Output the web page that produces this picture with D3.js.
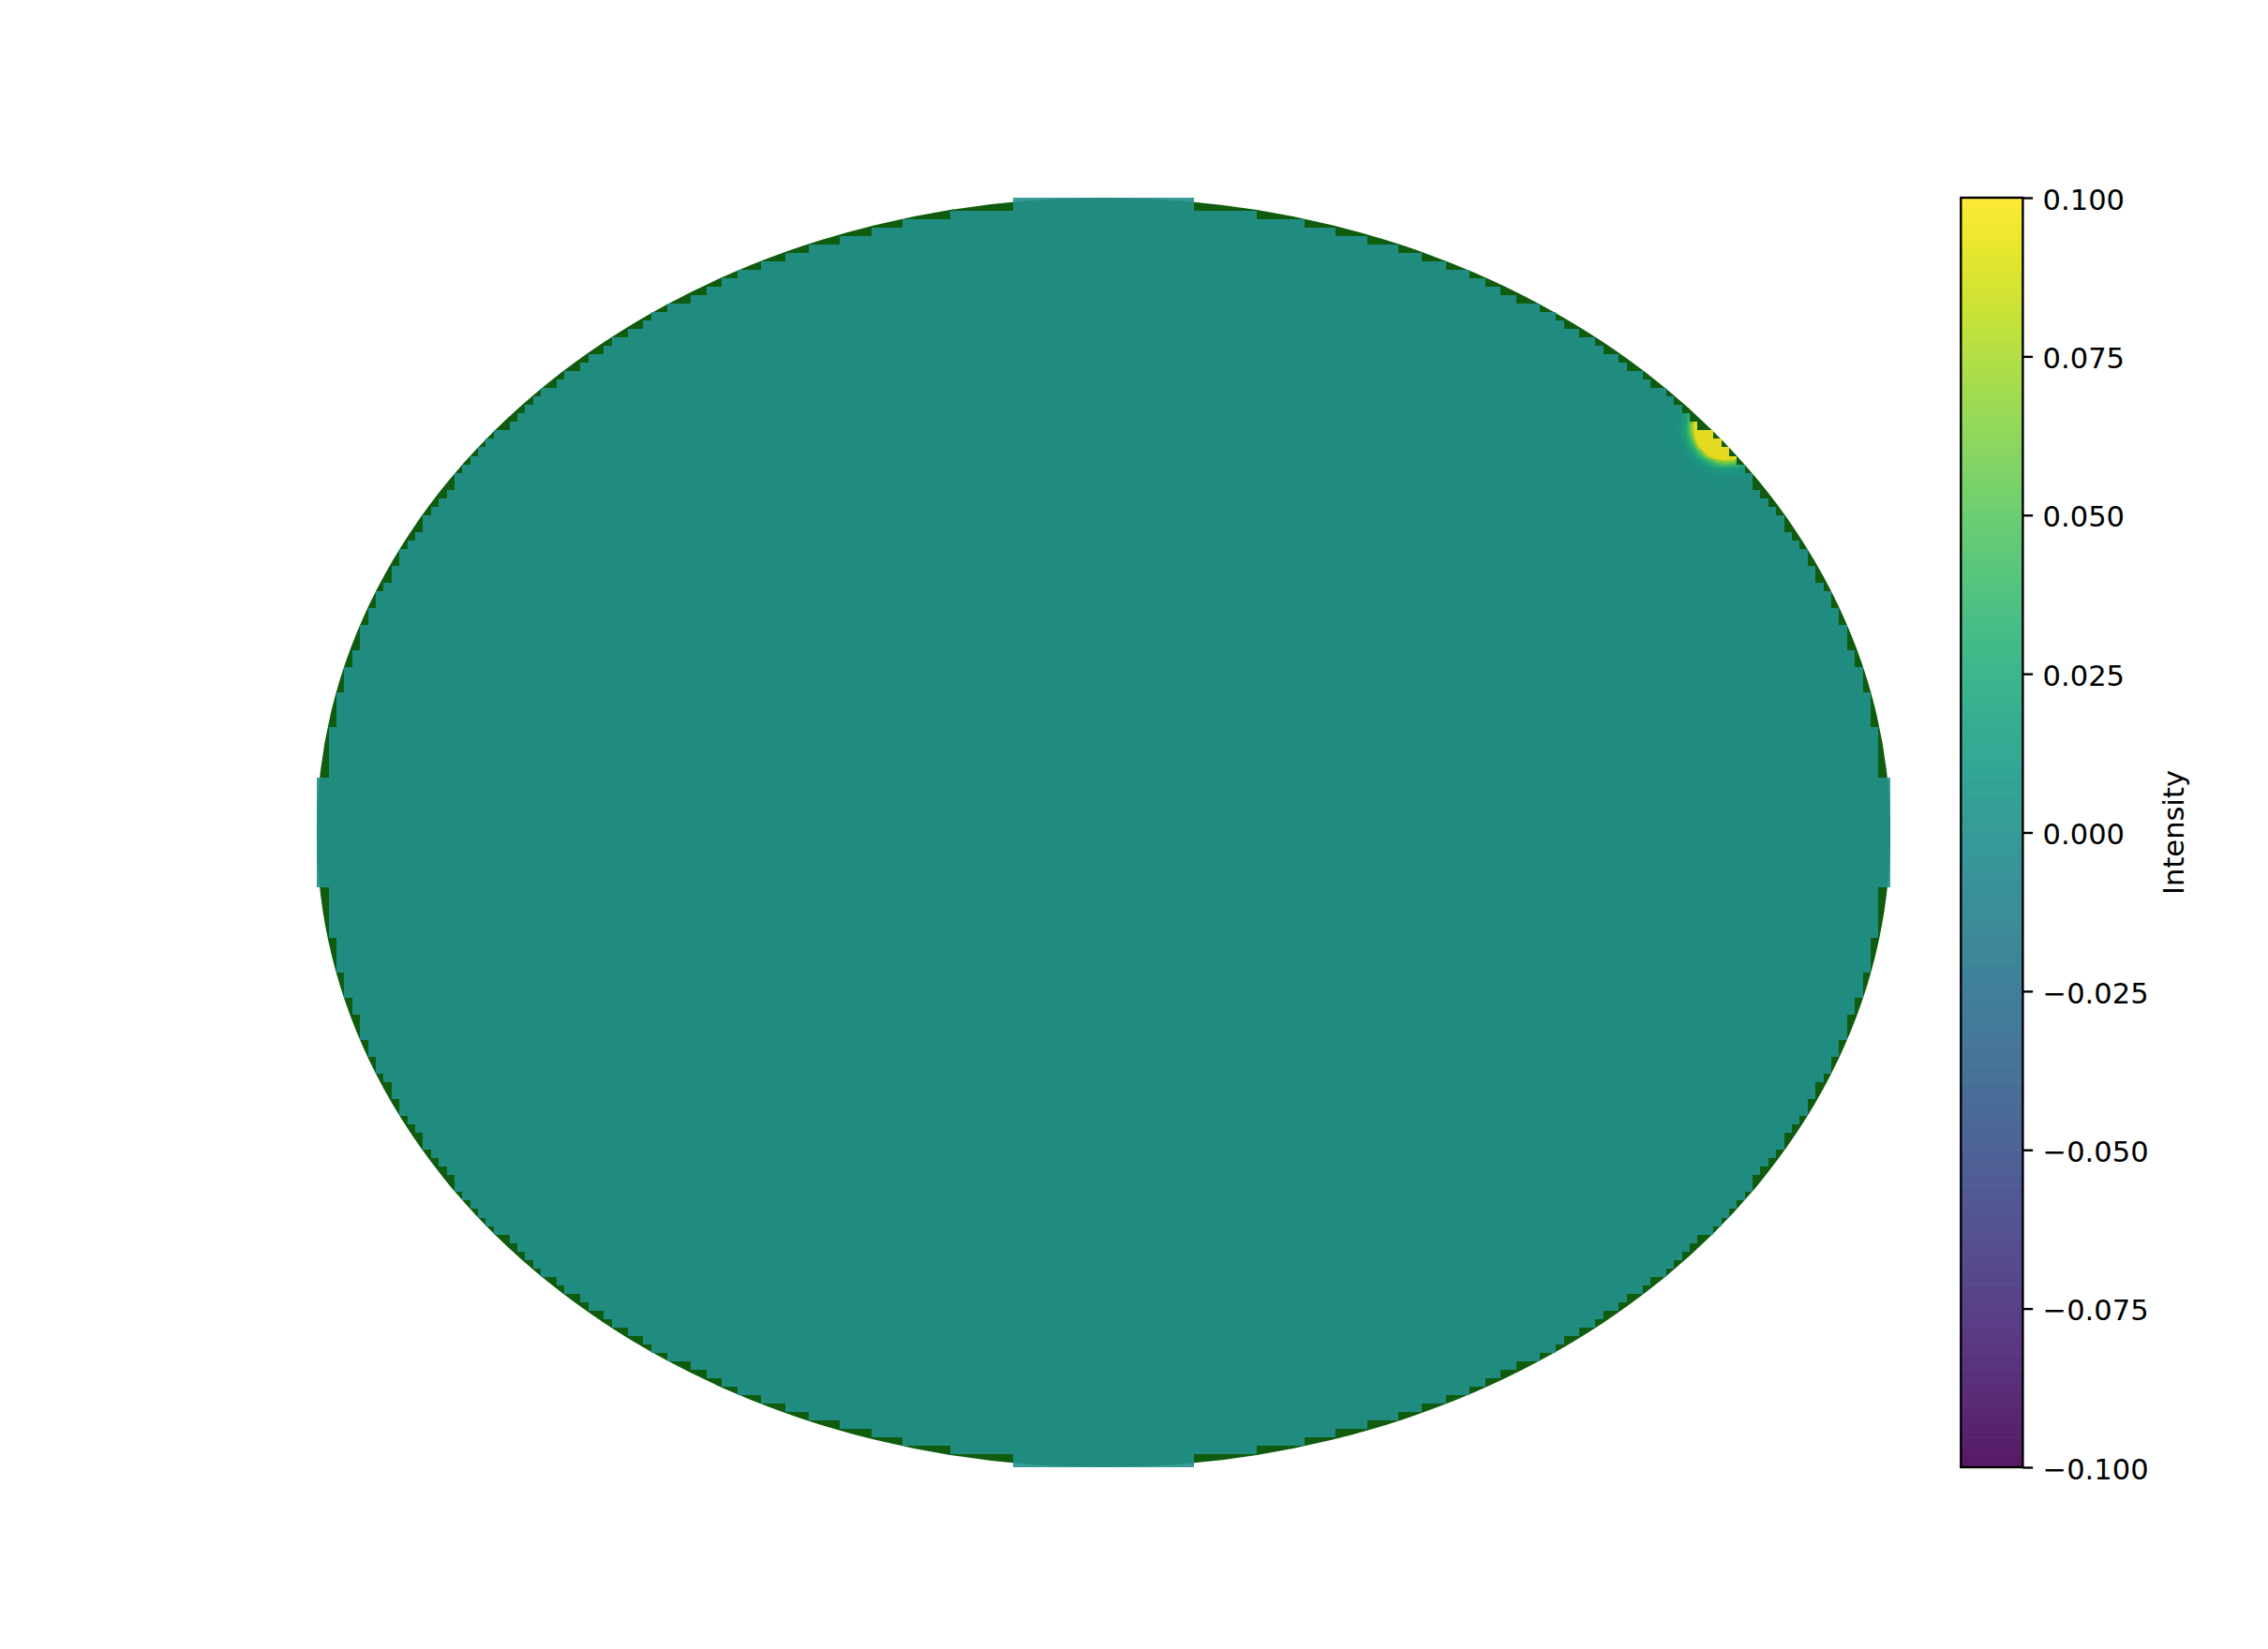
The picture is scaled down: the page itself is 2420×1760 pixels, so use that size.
<!DOCTYPE html>
<html><head><meta charset="utf-8">
<script src="https://cdn.jsdelivr.net/npm/d3@7"></script>
<style>
body{margin:0;background:#fff;}
svg{display:block;}
text{font-family:"DejaVu Sans", sans-serif;}
</style>
</head><body>
<svg id="chart" width="2420" height="1760"></svg>
<script>
// ---------------- data ----------------
const gridNx = 201;                 // sample nodes along x
const gridNy = 151;                 // sample nodes along y
const xExtent = [-1, 1];
const yExtent = [-1, 1];
const baseIntensity = 0.0;          // value everywhere away from the hot spot
const maskScale = [1.0125, 1.0144]; // disk mask: sx*x^2 + sy*y^2 <= 1
const diskRadius = 1.0;             // background disk (data units)
// hot spot near the upper-right rim: first row is node row j=128, first column node i=172
const hotspotOrigin = [172, 128];
const hotspotValues = [
  [0, 0, 0, 0.0007, 0.0023, 0.0052, 0.0088, 0.0108, 0.0097, 0.0063, 0.003, 0.0008, 0, 0, 0],
  [0, 0, 0.0009, 0.0038, 0.0121, 0.028, 0.047, 0.058, 0.052, 0.034, 0.016, 0.0057, 0.0014, 0, 0],
  [0, 0.0006, 0.0033, 0.0144, 0.0455, 0.105, 0.177, 0.217, 0.195, 0.128, 0.061, 0.0212, 0.0054, 0.001, 0],
  [0.0002, 0.0015, 0.0088, 0.038, 0.12, 0.277, 0.466, 0.573, 0.515, 0.337, 0.161, 0.056, 0.0143, 0.0026, 0.0004],
  [0.0003, 0.0027, 0.0159, 0.069, 0.217, 0.501, 0.845, 1.037, 0.932, 0.61, 0.291, 0.102, 0.0258, 0.0048, 0.0006],
  [0.0004, 0.0034, 0.02, 0.087, 0.274, 0.632, 1.066, 1.31, 1.175, 0.769, 0.367, 0.128, 0.0326, 0.006, 0.0008],
  [0.0004, 0.003, 0.0175, 0.076, 0.24, 0.554, 0.934, 1.148, 1.03, 0.674, 0.322, 0.112, 0.0286, 0.0053, 0.0007],
  [0.0002, 0.0018, 0.0107, 0.0464, 0.147, 0.338, 0.57, 0.7, 0.629, 0.412, 0.197, 0.0685, 0.0175, 0.0032, 0.0004],
  [0, 0.0008, 0.0045, 0.0195, 0.0616, 0.142, 0.239, 0.294, 0.264, 0.173, 0.0825, 0.0288, 0.0073, 0.0014, 0],
  [0, 0, 0.0013, 0.0057, 0.0182, 0.0419, 0.0706, 0.0867, 0.078, 0.051, 0.0243, 0.0085, 0.0022, 0.0004, 0],
  [0, 0, 0, 0.0012, 0.0037, 0.0086, 0.0145, 0.0178, 0.016, 0.0105, 0.005, 0.0017, 0.0005, 0, 0],
  [0, 0, 0, 0, 0, 0.0012, 0.002, 0.0025, 0.0022, 0.0014, 0.0007, 0, 0, 0, 0]
];
const colorDomain = [-0.1, 0.1];
const colorTicks = [-0.1, -0.075, -0.05, -0.025, 0, 0.025, 0.05, 0.075, 0.1];
const colorLabel = "Intensity";

// ---------------- layout ----------------
const plot = {left: 338, right: 2017, top: 211, bottom: 1566};
const cb = {left: 2092.3, right: 2158.4};
const fontPx = 30.56;
const meshAlpha = 0.9;
const diskColor = "#105c0f";

const svg = d3.select("#chart");
const xScale = d3.scaleLinear().domain(xExtent).range([plot.left, plot.right]);
const yScale = d3.scaleLinear().domain(yExtent).range([plot.bottom, plot.top]);
const colorScale = d3.scaleSequential(d3.interpolateViridis).domain(colorDomain).clamp(true);
const NLUT = 256;
const lut = d3.range(NLUT).map(k => d3.rgb(colorScale(colorDomain[0] + (k + 0.5) / NLUT * (colorDomain[1] - colorDomain[0]))));
function lutIndex(v) {
  let k = Math.floor((v - colorDomain[0]) / (colorDomain[1] - colorDomain[0]) * NLUT);
  return Math.max(0, Math.min(NLUT - 1, k));
}

// node coordinates
const xNodes = d3.range(gridNx).map(i => xExtent[0] + (xExtent[1] - xExtent[0]) * i / (gridNx - 1));
const yNodes = d3.range(gridNy).map(j => yExtent[0] + (yExtent[1] - yExtent[0]) * j / (gridNy - 1));

// field values at nodes
const field = new Float64Array(gridNx * gridNy).fill(baseIntensity);
hotspotValues.forEach((row, r) => row.forEach((v, c) => {
  const i = hotspotOrigin[0] + c, j = hotspotOrigin[1] - r;
  field[j * gridNx + i] = v;
}));
// mask at nodes (edge rows / columns copy their neighbours)
const inside = new Uint8Array(gridNx * gridNy);
for (let j = 0; j < gridNy; j++) for (let i = 0; i < gridNx; i++) {
  const mi = Math.min(Math.max(i, 1), gridNx - 2), mj = Math.min(Math.max(j, 1), gridNy - 2);
  const x = xNodes[mi], y = yNodes[mj];
  inside[j * gridNx + i] = (maskScale[0] * x * x + maskScale[1] * y * y <= 1) ? 1 : 0;
}

// background disk
svg.append("ellipse")
  .attr("cx", xScale(0)).attr("cy", yScale(0))
  .attr("rx", xScale(diskRadius) - xScale(0))
  .attr("ry", yScale(0) - yScale(diskRadius))
  .attr("fill", diskColor);

// mesh raster
const W = Math.round(plot.right - plot.left), H = Math.round(plot.bottom - plot.top);
const canvas = document.createElement("canvas");
canvas.width = W; canvas.height = H;
const ctx = canvas.getContext("2d");
const img = ctx.createImageData(W, H);
const A = Math.round(meshAlpha * 255);
const fiOf = X => (X - xExtent[0]) / (xExtent[1] - xExtent[0]) * (gridNx - 1);
const fjOf = Y => (Y - yExtent[0]) / (yExtent[1] - yExtent[0]) * (gridNy - 1);
for (let py = 0; py < H; py++) {
  const Y = yScale.invert(plot.top + py + 0.5);
  const fj = fjOf(Y);
  const nj = Math.min(gridNy - 1, Math.max(0, Math.round(fj)));
  let j0 = Math.min(gridNy - 2, Math.max(0, Math.floor(fj)));
  const ty = fj - j0;
  for (let px = 0; px < W; px++) {
    const X = xScale.invert(plot.left + px + 0.5);
    const fi = fiOf(X);
    const ni = Math.min(gridNx - 1, Math.max(0, Math.round(fi)));
    if (!inside[nj * gridNx + ni]) continue;
    const i0 = Math.min(gridNx - 2, Math.max(0, Math.floor(fi)));
    const tx = fi - i0;
    const v00 = field[j0 * gridNx + i0], v10 = field[j0 * gridNx + i0 + 1];
    const v01 = field[(j0 + 1) * gridNx + i0], v11 = field[(j0 + 1) * gridNx + i0 + 1];
    const v = (v00 * (1 - tx) + v10 * tx) * (1 - ty) + (v01 * (1 - tx) + v11 * tx) * ty;
    const c = lut[lutIndex(v)];
    const o = (py * W + px) * 4;
    img.data[o] = c.r; img.data[o + 1] = c.g; img.data[o + 2] = c.b; img.data[o + 3] = A;
  }
}
ctx.putImageData(img, 0, 0);
svg.append("image")
  .attr("x", plot.left).attr("y", plot.top)
  .attr("width", W).attr("height", H)
  .attr("preserveAspectRatio", "none")
  .style("image-rendering", "pixelated")
  .attr("href", canvas.toDataURL("image/png"));

// colorbar
const cbScale = d3.scaleLinear().domain(colorDomain).range([plot.bottom, plot.top]);
const step = (colorDomain[1] - colorDomain[0]) / NLUT;
svg.append("g").attr("opacity", meshAlpha)
  .selectAll("rect").data(d3.range(NLUT)).join("rect")
  .attr("x", cb.left).attr("width", cb.right - cb.left)
  .attr("y", k => cbScale(colorDomain[0] + (k + 1) * step))
  .attr("height", k => cbScale(colorDomain[0] + k * step) - cbScale(colorDomain[0] + (k + 1) * step) + 0.6)
  .attr("fill", k => lut[k].formatHex());
svg.append("rect")
  .attr("x", cb.left).attr("y", plot.top)
  .attr("width", cb.right - cb.left).attr("height", plot.bottom - plot.top)
  .attr("fill", "none").attr("stroke", "#000").attr("stroke-width", 2.4);

const axis = d3.axisRight(cbScale).tickValues(colorTicks).tickSize(10.7).tickPadding(10.5)
  .tickFormat(d3.format(".3f"));
const ag = svg.append("g").attr("transform", `translate(${cb.right},0)`).call(axis);
ag.select(".domain").remove();
ag.selectAll(".tick line").attr("stroke", "#000").attr("stroke-width", 2.4);
ag.selectAll(".tick text").attr("fill", "#000").attr("dy", "0.40em")
  .style("font-size", fontPx + "px").style("font-family", "'DejaVu Sans', sans-serif");

svg.append("text")
  .attr("transform", `translate(2330,${(plot.top + plot.bottom) / 2}) rotate(-90)`)
  .attr("text-anchor", "middle")
  .style("font-size", fontPx + "px")
  .attr("fill", "#000")
  .text(colorLabel);
</script>
</body></html>
